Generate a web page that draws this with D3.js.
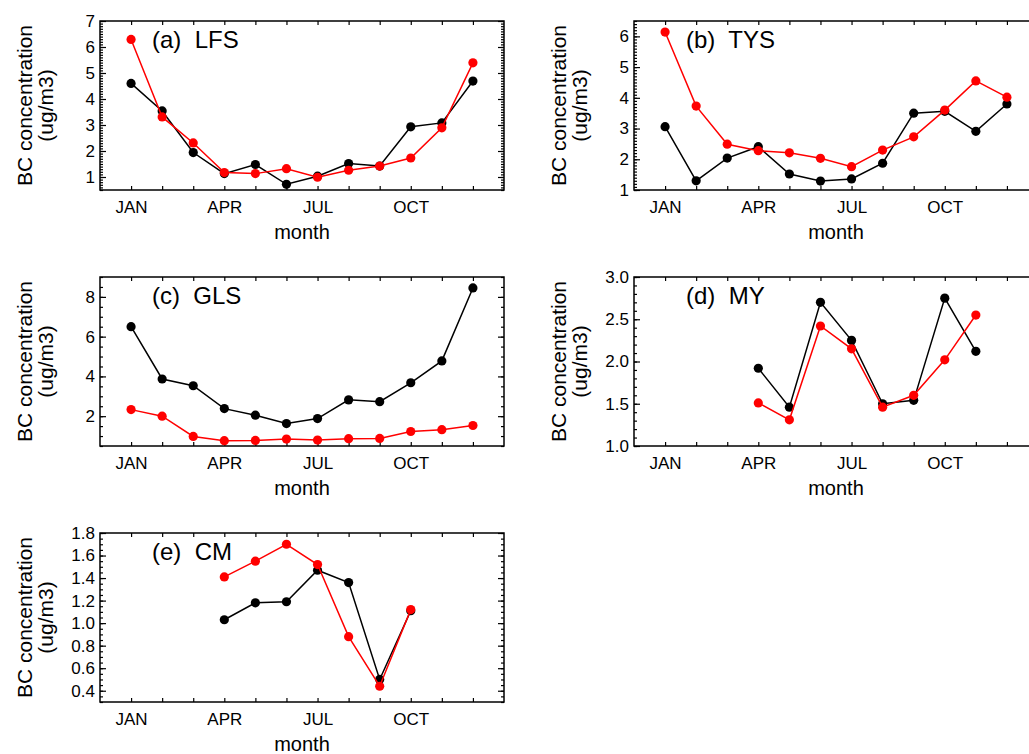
<!DOCTYPE html>
<head>
  <meta charset='utf-8'>
  <style>
      body {
        margin: 0;
        background: #fff;
      }

      text {
        font-family: 'Liberation Sans', Arial, Helvetica, sans-serif;
        fill: #000;
      }

      .frame {
        fill: none;
        stroke: #000;
        stroke-width: 1.5px;
      }

      .tick line {
        stroke: #000;
        stroke-width: 1.2px;
      }

      .line {
        fill: none;
        stroke-width: 1.5px;
      }
  </style>
</head>
<body>
<script src='https://d3js.org/d3.v7.min.js'></script>
<script>
    // months 1..12, null = no data
    var monthNames = ['JAN', 'FEB', 'MAR', 'APR', 'MAY', 'JUN', 'JUL', 'AUG', 'SEP', 'OCT', 'NOV', 'DEC'];
    var labelledMonths = [1, 4, 7, 10];

    var lfsBlack = [4.60, 3.54, 1.94, 1.13, 1.48, 0.72, 1.03, 1.52, 1.42, 2.93, 3.08, 4.69];
    var lfsRed   = [6.29, 3.31, 2.31, 1.17, 1.13, 1.32, 0.99, 1.26, 1.42, 1.73, 2.89, 5.39];

    var tysBlack = [3.06, 1.30, 2.04, 2.41, 1.52, 1.29, 1.36, 1.87, 3.50, 3.56, 2.91, 3.80];
    var tysRed   = [6.14, 3.73, 2.49, 2.28, 2.21, 2.03, 1.76, 2.30, 2.73, 3.60, 4.55, 4.02];

    var glsBlack = [6.50, 3.87, 3.53, 2.38, 2.05, 1.63, 1.88, 2.82, 2.73, 3.68, 4.78, 8.45];
    var glsRed   = [2.33, 2.00, 0.98, 0.77, 0.78, 0.85, 0.80, 0.87, 0.88, 1.23, 1.32, 1.53];

    var myBlack = [null, null, null, 1.92, 1.46, 2.70, 2.25, 1.50, 1.54, 2.75, 2.12, null];
    var myRed   = [null, null, null, 1.51, 1.31, 2.42, 2.15, 1.46, 1.60, 2.02, 2.55, null];

    var cmBlack = [null, null, null, 1.03, 1.18, 1.19, 1.47, 1.36, 0.50, 1.11, null, null];
    var cmRed   = [null, null, null, 1.41, 1.55, 1.70, 1.52, 0.88, 0.44, 1.12, null, null];

    var panels = [
        {label: '(a)  LFS', black: lfsBlack, red: lfsRed, y: [0.5, 7], major: 1, minor: 0.1, fmt: 'd', col: 0, row: 0},
        {label: '(b)  TYS', black: tysBlack, red: tysRed, y: [1, 6.5], major: 1, minor: 0.1, fmt: 'd', col: 1, row: 0},
        {label: '(c)  GLS', black: glsBlack, red: glsRed, y: [0.5, 9], major: 2, minor: 0.5, fmt: 'd', col: 0, row: 1},
        {label: '(d)  MY',  black: myBlack,  red: myRed,  y: [1, 3], major: 0.5, minor: 0.1, fmt: '.1f', col: 1, row: 1},
        {label: '(e)  CM',  black: cmBlack,  red: cmRed,  y: [0.3, 1.8], major: 0.2, minor: 0.05, fmt: '.1f', col: 0, row: 2}
    ];

    var
        W = 1029,
        H = 754,
        colX = [100, 634],
        rowY = [21, 277, 533],
        w = 404,
        h = 169;

    var svg = d3.select('body')
        .append('svg')
            .attr('width', W)
            .attr('height', H);

    function ticksBetween(lo, hi, step) {
        var out = [];
        var start = Math.ceil(lo / step - 1e-6);
        for (var k = start; k * step <= hi + 1e-9; k++) {
            out.push(+(k * step).toFixed(4));
        }
        return out;
    }

    panels.forEach(function(p) {
        var g = svg.append('g')
            .attr('transform', 'translate(' + colX[p.col] + ',' + rowY[p.row] + ')');

        var x = d3.scaleLinear().domain([0, 13]).range([0, w]),
            y = d3.scaleLinear().domain(p.y).range([h, 0]);

        var majors = ticksBetween(p.y[0], p.y[1], p.major),
            minors = ticksBetween(p.y[0], p.y[1], p.minor),
            fmt = d3.format(p.fmt);

        // minor y ticks, both sides
        g.append('g').call(d3.axisLeft(y).tickValues(minors).tickSize(-3).tickFormat(''));
        g.append('g').attr('transform', 'translate(' + w + ',0)')
            .call(d3.axisRight(y).tickValues(minors).tickSize(-3).tickFormat(''));

        // major y ticks with labels
        var yl = g.append('g')
            .call(d3.axisLeft(y).tickValues(majors).tickSize(-6).tickPadding(5).tickFormat(fmt));
        yl.selectAll('text').style('font-size', '17px');
        g.append('g').attr('transform', 'translate(' + w + ',0)')
            .call(d3.axisRight(y).tickValues(majors).tickSize(-6).tickFormat(''));

        // month ticks
        var xl = g.append('g').attr('transform', 'translate(0,' + h + ')')
            .call(d3.axisBottom(x).tickValues(d3.range(1, 13)).tickSize(-4).tickPadding(11)
                .tickFormat(function(m) {
                    return labelledMonths.indexOf(m) >= 0 ? monthNames[m - 1] : '';
                }));
        xl.selectAll('text').style('font-size', '17px');
        g.append('g')
            .call(d3.axisTop(x).tickValues(d3.range(1, 13)).tickSize(-4).tickFormat(''));

        g.selectAll('.domain').remove();

        g.append('rect')
            .attr('class', 'frame')
            .attr('width', w)
            .attr('height', h);

        var line = d3.line()
            .defined(function(d) { return d != null; })
            .x(function(d, i) { return x(i + 1); })
            .y(function(d) { return y(d); });

        [['#000', p.black], ['#ff0000', p.red]].forEach(function(s) {
            g.append('path')
                .datum(s[1])
                .attr('class', 'line')
                .attr('stroke', s[0])
                .attr('d', line);
            g.selectAll(null)
                .data(s[1].map(function(v, i) { return {m: i + 1, v: v}; })
                    .filter(function(d) { return d.v != null; }))
                .enter().append('circle')
                .attr('cx', function(d) { return x(d.m); })
                .attr('cy', function(d) { return y(d.v); })
                .attr('r', 4.6)
                .attr('fill', s[0]);
        });

        g.append('text')
            .attr('x', 52)
            .attr('y', 27)
            .style('white-space', 'pre')
            .style('font-size', '24px')
            .text(p.label);

        g.append('text')
            .attr('x', w / 2)
            .attr('y', h + 49)
            .attr('text-anchor', 'middle')
            .style('font-size', '20px')
            .text('month');

        var yt = g.append('g')
            .attr('transform', 'translate(0,' + h / 2 + ') rotate(-90)');
        yt.append('text')
            .attr('x', 0)
            .attr('y', -68)
            .attr('text-anchor', 'middle')
            .style('font-size', '21px')
            .text('BC concentration');
        yt.append('text')
            .attr('x', 0)
            .attr('y', -47)
            .attr('text-anchor', 'middle')
            .style('font-size', '21px')
            .text('(ug/m3)');
    });
</script>
</body>
